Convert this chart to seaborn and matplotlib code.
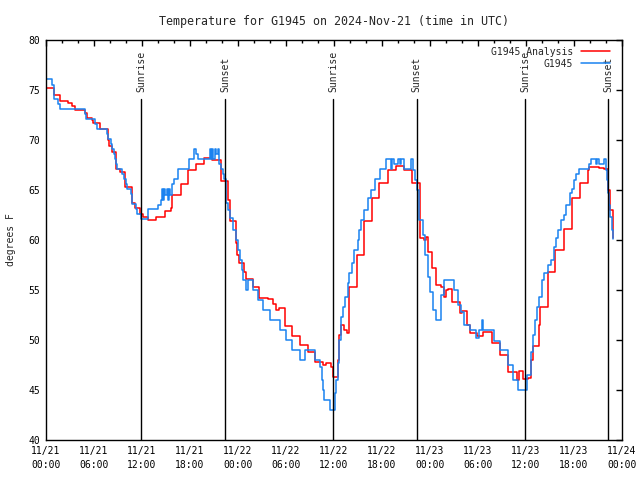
import matplotlib

matplotlib.use("Agg")
import numpy as np
import pandas as pd
import seaborn as sns
import matplotlib.pyplot as plt
import matplotlib.dates as mdates

start = pd.Timestamp("2024-11-21 00:00")

# observed station temperatures (hours after start, degF)
obs_hours = [
    0.0, 0.79, 1.0, 1.54, 1.71, 4.875, 5.0, 6.125, 6.33, 7.58, 7.79, 8.08,
    8.3, 8.5, 8.6, 8.7, 8.9, 9.54, 9.7, 10.04, 10.17, 10.625, 10.7, 10.79,
    11.2, 11.375, 11.875, 12.8, 14.04, 14.33, 14.46, 14.6, 14.75, 14.9,
    15.1, 15.25, 15.4, 15.55, 15.79, 16.0, 16.54, 17.875, 18.5, 18.79,
    19.0, 20.46, 20.6, 20.75, 20.9, 21.1, 21.3, 21.45, 21.6, 21.9, 22.1,
    22.3, 22.46, 22.7, 22.96, 23.375, 23.7, 24.0, 24.3, 24.5, 24.6, 25.04,
    25.2, 25.875, 26.5, 27.125, 27.96, 29.3, 30.04, 30.75, 31.7, 32.4,
    33.58, 34.2, 34.5, 34.65, 34.8, 35.46, 36.08, 36.3, 36.46, 36.67,
    36.875, 37.08, 37.4, 37.7, 37.9, 38.25, 38.54, 38.96, 39.17, 39.375,
    39.8, 40.2, 40.625, 41.17, 41.75, 42.5, 43.125, 43.3, 43.54, 43.96,
    44.2, 44.4, 44.8, 45.625, 45.9, 46.1, 46.33, 46.67, 47.08, 47.375,
    47.7, 48.04, 48.33, 48.75, 49.375, 49.79, 50.96, 51.46, 51.875, 52.29,
    53.04, 53.75, 54.17, 54.5, 54.58, 55.96, 56.79, 57.7, 58.33, 59.04,
    60.125, 60.625, 60.9, 61.1, 61.375, 61.67, 61.96, 62.2, 62.7, 63.125,
    63.54, 63.75, 64.04, 64.375, 64.7, 65.0, 65.54, 65.7, 65.96, 66.25,
    66.67, 67.92, 68.125, 68.75, 68.9, 69.17, 69.79, 70.0, 70.15, 70.29,
    70.4, 70.54, 70.7, 70.83,
]
obs_temps = [
    76.1, 75.5, 74.1, 73.6, 73.1, 72.6, 72.1, 71.6, 71.1, 70.6, 70.1, 69.6,
    69.1, 68.6, 68.1, 67.6, 67.1, 66.6, 66.1, 65.6, 65.1, 64.6, 64.1, 63.6,
    63.1, 62.6, 62.1, 63.07, 63.5, 64.0, 65.07, 64.0, 65.07, 64.5,
    65.07, 64.0, 65.07, 64.5, 65.6, 66.07, 67.07, 68.07, 69.07, 68.6,
    68.07, 69.07, 68.07, 69.07, 68.07, 69.07, 68.6, 69.07, 67.6, 67.1, 66.6,
    66.1, 63.7, 63.0, 62.2, 61.0, 60.0, 59.0, 58.0, 57.0, 56.0, 55.0,
    56.0, 55.0, 54.0, 53.0, 52.0, 51.0, 50.0, 49.0, 48.0, 49.0,
    48.0, 47.3, 46.0, 45.0, 44.0, 43.0, 44.7, 46.0, 47.7, 50.0,
    52.3, 53.3, 54.3, 55.7, 56.7, 57.7, 59.0, 60.0, 61.0, 62.0,
    63.0, 64.2, 65.0, 66.1, 67.07, 68.07, 67.07, 68.07, 67.6, 68.07,
    67.6, 68.07, 67.07, 68.07, 67.0, 66.0, 65.0, 62.0, 60.5, 58.5,
    56.3, 54.8, 53.0, 52.0, 54.5, 56.0, 55.0, 53.5, 52.8, 51.5,
    51.0, 50.2, 51.0, 52.0, 51.0, 49.9, 49.0, 47.5, 46.0, 45.0,
    46.5, 48.8, 50.5, 52.0, 53.3, 54.3, 56.0, 56.7, 57.5, 58.0,
    59.3, 60.2, 61.0, 62.0, 62.5, 63.5, 64.7, 65.1, 66.0, 66.6,
    67.07, 67.6, 68.07, 67.6, 68.07, 67.6, 68.07, 67.0, 66.0, 64.7,
    63.5, 62.3, 61.0, 60.1,
]

# analysis temperatures (hours after start, degF)
ana_hours = [
    0.0, 0.96, 1.75, 2.79, 3.2, 3.625, 4.875, 5.08, 5.71, 5.9, 6.75, 7.7,
    7.9, 8.2, 8.75, 9.3, 9.875, 10.8, 11.1, 11.75, 12.08, 12.79, 13.79,
    14.875, 15.67, 15.79, 16.83, 17.79, 18.79, 19.75, 20.7, 21.85, 22.75,
    22.96, 23.79, 23.9, 24.125, 24.75, 24.96, 25.875, 26.625, 27.75, 28.4,
    28.8, 29.125, 29.83, 30.8, 31.7, 32.75, 33.58, 34.6, 35.0, 35.6,
    35.875, 36.46, 36.67, 36.875, 37.3, 37.58, 37.83, 38.875, 39.7, 40.7,
    41.67, 42.7, 43.75, 44.8, 45.75, 46.8, 47.2, 47.5, 47.79, 48.2, 48.75,
    49.375, 49.7, 50.0, 50.29, 50.7, 51.79, 51.96, 52.625, 53.04, 53.875,
    54.58, 55.7, 56.79, 57.7, 58.875, 59.17, 59.58, 60.2, 60.625, 60.83,
    61.67, 61.79, 62.7, 63.67, 64.8, 65.7, 66.8, 67.7, 67.9, 69.17, 69.7,
    70.29, 70.5, 70.83,
]
ana_temps = [
    75.2, 74.5, 73.9, 73.7, 73.4, 73.0, 72.7, 72.2, 72.0, 71.7, 71.1, 70.0,
    69.4, 68.8, 67.1, 66.8, 65.3, 63.7, 63.2, 62.6, 62.3, 62.0, 62.3,
    62.9, 63.2, 64.5, 65.6, 67.0, 67.57, 68.17, 68.0, 65.9, 64.0,
    61.9, 59.7, 58.5, 57.7, 56.8, 56.1, 55.3, 54.2, 54.1, 53.6,
    53.0, 53.2, 51.4, 50.4, 49.5, 48.8, 47.8, 47.5, 47.7, 47.3,
    46.3, 48.0, 50.5, 51.5, 51.0, 50.7, 55.3, 58.5, 61.9, 64.2,
    65.7, 67.0, 67.4, 67.0, 65.7, 60.2, 60.0, 60.3, 58.8, 57.2, 55.5,
    55.3, 54.3, 55.0, 55.1, 53.8, 52.7, 52.9, 51.5, 50.7, 50.4,
    50.8, 49.7, 48.5, 46.8, 46.0, 46.9, 46.1, 46.2, 48.0, 49.4,
    51.5, 53.3, 56.8, 59.0, 61.1, 64.2, 65.7, 67.0, 67.3, 67.2, 67.07,
    65.0, 63.0, 60.2,
]

sunrise_times = ["2024-11-21 11:55", "2024-11-22 11:55", "2024-11-23 11:55"]
sunset_times = ["2024-11-21 22:22", "2024-11-22 22:20", "2024-11-23 22:18"]

obs = pd.DataFrame({"time": start + pd.to_timedelta(obs_hours, unit="h"), "temp": obs_temps})
ana = pd.DataFrame({"time": start + pd.to_timedelta(ana_hours, unit="h"), "temp": ana_temps})

sns.set_style("white")
plt.rcParams["font.family"] = ["DejaVu Sans Mono"]
plt.rcParams["font.size"] = 7

fig = plt.figure(figsize=(6.4, 4.8), dpi=100)
ax = fig.add_axes([46 / 640, 40 / 480, 576 / 640, 400 / 480])

sns.lineplot(data=ana, x="time", y="temp", ax=ax, color="#ff0000", lw=1.1,
             drawstyle="steps-post", estimator=None, sort=False, label="G1945 Analysis")
sns.lineplot(data=obs, x="time", y="temp", ax=ax, color="#1a82f0", lw=1.1,
             drawstyle="steps-post", estimator=None, sort=False, label="G1945")

for t in sunrise_times:
    ax.axvline(pd.Timestamp(t), ymin=0, ymax=0.8525, color="black", lw=1)
    ax.text(pd.Timestamp(t), 0.87, "Sunrise", rotation=90, ha="center", va="bottom",
            transform=ax.get_xaxis_transform())
for t in sunset_times:
    ax.axvline(pd.Timestamp(t), ymin=0, ymax=0.8525, color="black", lw=1)
    ax.text(pd.Timestamp(t), 0.87, "Sunset", rotation=90, ha="center", va="bottom",
            transform=ax.get_xaxis_transform())

ax.set_xlim(start, pd.Timestamp("2024-11-24 00:00"))
ax.set_ylim(40, 80)
ax.set_yticks(np.arange(40, 81, 5))
ax.xaxis.set_major_locator(mdates.HourLocator(byhour=[0, 6, 12, 18]))
ax.xaxis.set_minor_locator(mdates.HourLocator(interval=2))
ax.xaxis.set_major_formatter(mdates.DateFormatter("%m/%d\n%H:%M"))
ax.tick_params(which="both", direction="in", top=True, right=True, colors="black", labelsize=7)
ax.tick_params(which="major", length=4.5, width=1, pad=4)
ax.tick_params(which="minor", length=2.5, width=1)
for s in ax.spines.values():
    s.set_color("black")
    s.set_linewidth(1)

ax.set_xlabel("")
ax.set_ylabel("degrees F", labelpad=9)
ax.set_title("Temperature for G1945 on 2024-Nov-21 (time in UTC)", pad=11)

ax.legend(loc="upper right", bbox_to_anchor=(0.991, 1.0), frameon=False,
          markerfirst=False, handlelength=3, handletextpad=0.8, labelspacing=0.2,
          borderaxespad=0.3, fontsize=7)

# wider gap between date and time lines, as in the reference
fig.canvas.draw()
for lbl in ax.get_xticklabels():
    lbl.set_linespacing(1.6)

fig.savefig("out.png", dpi=100)
plt.close(fig)
